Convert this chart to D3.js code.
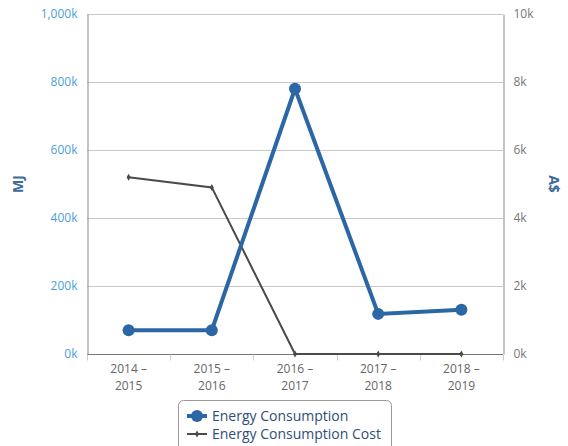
<!DOCTYPE html>
<html>
<head>
<meta charset="utf-8">
<script src="https://cdn.jsdelivr.net/npm/d3@7"></script>
<style>
body{margin:0;background:#fff;font-family:"Open Sans",sans-serif;}
</style>
</head>
<body>
<svg id="chart" width="568" height="446"></svg>
<script>
var categories=["2014 – 2015","2015 – 2016","2016 – 2017","2017 – 2018","2018 – 2019"];
var energy=[70000,70000,780000,118000,130000];
var cost=[5200,4900,0,0,0];
var leftTicks=[0,200000,400000,600000,800000,1000000];
var rightTicks=[0,2000,4000,6000,8000,10000];

var svg=d3.select('#chart');
var pLeft=87,pRight=503,pTop=14,pBottom=354;

var x=d3.scaleBand().domain(categories).range([pLeft,pRight]);
var yL=d3.scaleLinear().domain([0,1000000]).range([pBottom,pTop]);
var yR=d3.scaleLinear().domain([0,10000]).range([pBottom,pTop]);

// gridlines
svg.append('g').selectAll('line').data(leftTicks).enter().append('line')
    .attr('x1',pLeft).attr('x2',pRight)
    .attr('y1',function(d){return Math.round(yL(d))+0.5;}).attr('y2',function(d){return Math.round(yL(d))+0.5;})
    .attr('stroke','#c8c8c8').attr('stroke-width',1);

// left axis
var gL=svg.append('g').attr('transform','translate('+(pLeft+0.5)+',0)')
    .call(d3.axisLeft(yL).tickValues(leftTicks).tickSize(0).tickPadding(10)
    .tickFormat(function(d){return d3.format(',')(d/1000)+'k';}));
gL.select('.domain').attr('stroke','#888');
gL.selectAll('text').attr('fill','#4a9fd8').style('font-size','12px').style('font-family','"Open Sans",sans-serif');

// right axis
var gR=svg.append('g').attr('transform','translate('+(pRight+0.5)+',0)')
    .call(d3.axisRight(yR).tickValues(rightTicks).tickSize(0).tickPadding(10)
    .tickFormat(function(d){return (d/1000)+'k';}));
gR.select('.domain').attr('stroke','#888');
gR.selectAll('text').attr('fill','#777').style('font-size','12px').style('font-family','"Open Sans",sans-serif');

// bottom axis
var gB=svg.append('g').attr('transform','translate(0,'+(pBottom+0.5)+')');
gB.append('line').attr('x1',pLeft).attr('x2',pRight).attr('stroke','#777');
var bounds=categories.map(function(c){return x(c);}).concat([pRight]);
gB.selectAll('line.tk').data(bounds).enter().append('line').attr('class','tk')
    .attr('x1',function(d){return Math.round(d)+0.5;}).attr('x2',function(d){return Math.round(d)+0.5;})
    .attr('y1',0).attr('y2',6).attr('stroke','#c0d0e0');
var lab=gB.selectAll('text').data(categories).enter().append('text')
    .attr('text-anchor','middle').attr('fill','#666').style('font-size','12px')
    .attr('transform',function(d){return 'translate('+(x(d)+x.bandwidth()/2)+',0)';});
lab.append('tspan').attr('x',0).attr('y',18).text(function(d){return d.split(' – ')[0]+' –';});
lab.append('tspan').attr('x',0).attr('y',35).text(function(d){return d.split(' – ')[1];});

// axis titles
svg.append('text').attr('transform','translate(23,'+((pTop+pBottom)/2)+') rotate(-90)')
    .attr('text-anchor','middle').attr('fill','#3d6a9a').style('font-weight','bold').style('font-size','14px').text('MJ');
svg.append('text').attr('transform','translate(549,'+((pTop+pBottom)/2)+') rotate(90)')
    .attr('text-anchor','middle').attr('fill','#3d6a9a').style('font-weight','bold').style('font-size','14px').text('A$');

var cx=function(i){return x(categories[i])+x.bandwidth()/2;};

// cost line
svg.append('path').datum(cost)
    .attr('d',d3.line().x(function(d,i){return cx(i);}).y(function(d){return yR(d);}))
    .attr('fill','none').attr('stroke','#4a4a4a').attr('stroke-width',2);
svg.append('g').selectAll('path').data(cost).enter().append('path')
    .attr('d',d3.symbol().type(d3.symbolDiamond).size(14))
    .attr('transform',function(d,i){return 'translate('+cx(i)+','+yR(d)+')';})
    .attr('fill','#4a4a4a');

// energy line
svg.append('path').datum(energy)
    .attr('d',d3.line().x(function(d,i){return cx(i);}).y(function(d){return yL(d);}))
    .attr('fill','none').attr('stroke','#2b67a4').attr('stroke-width',4);
svg.append('g').selectAll('circle').data(energy).enter().append('circle')
    .attr('cx',function(d,i){return cx(i);}).attr('cy',function(d){return yL(d);})
    .attr('r',6).attr('fill','#2b67a4');

// legend
var lg=svg.append('g');
lg.append('rect').attr('x',178.5).attr('y',400.5).attr('width',213).attr('height',52).attr('rx',5)
    .attr('fill','#fff').attr('stroke','#999');
lg.append('line').attr('x1',187).attr('x2',207).attr('y1',416).attr('y2',416).attr('stroke','#2b67a4').attr('stroke-width',4);
lg.append('circle').attr('cx',197).attr('cy',416).attr('r',6).attr('fill','#2b67a4');
lg.append('text').attr('x',212).attr('y',421).attr('fill','#2d4e78').style('font-size','14px').text('Energy Consumption');
lg.append('line').attr('x1',187).attr('x2',207).attr('y1',434).attr('y2',434).attr('stroke','#4a4a4a').attr('stroke-width',2);
lg.append('path').attr('d',d3.symbol().type(d3.symbolDiamond).size(14)).attr('transform','translate(197,434)').attr('fill','#4a4a4a');
lg.append('text').attr('x',212).attr('y',439).attr('fill','#2d4e78').style('font-size','14px').text('Energy Consumption Cost');
</script>
</body>
</html>
